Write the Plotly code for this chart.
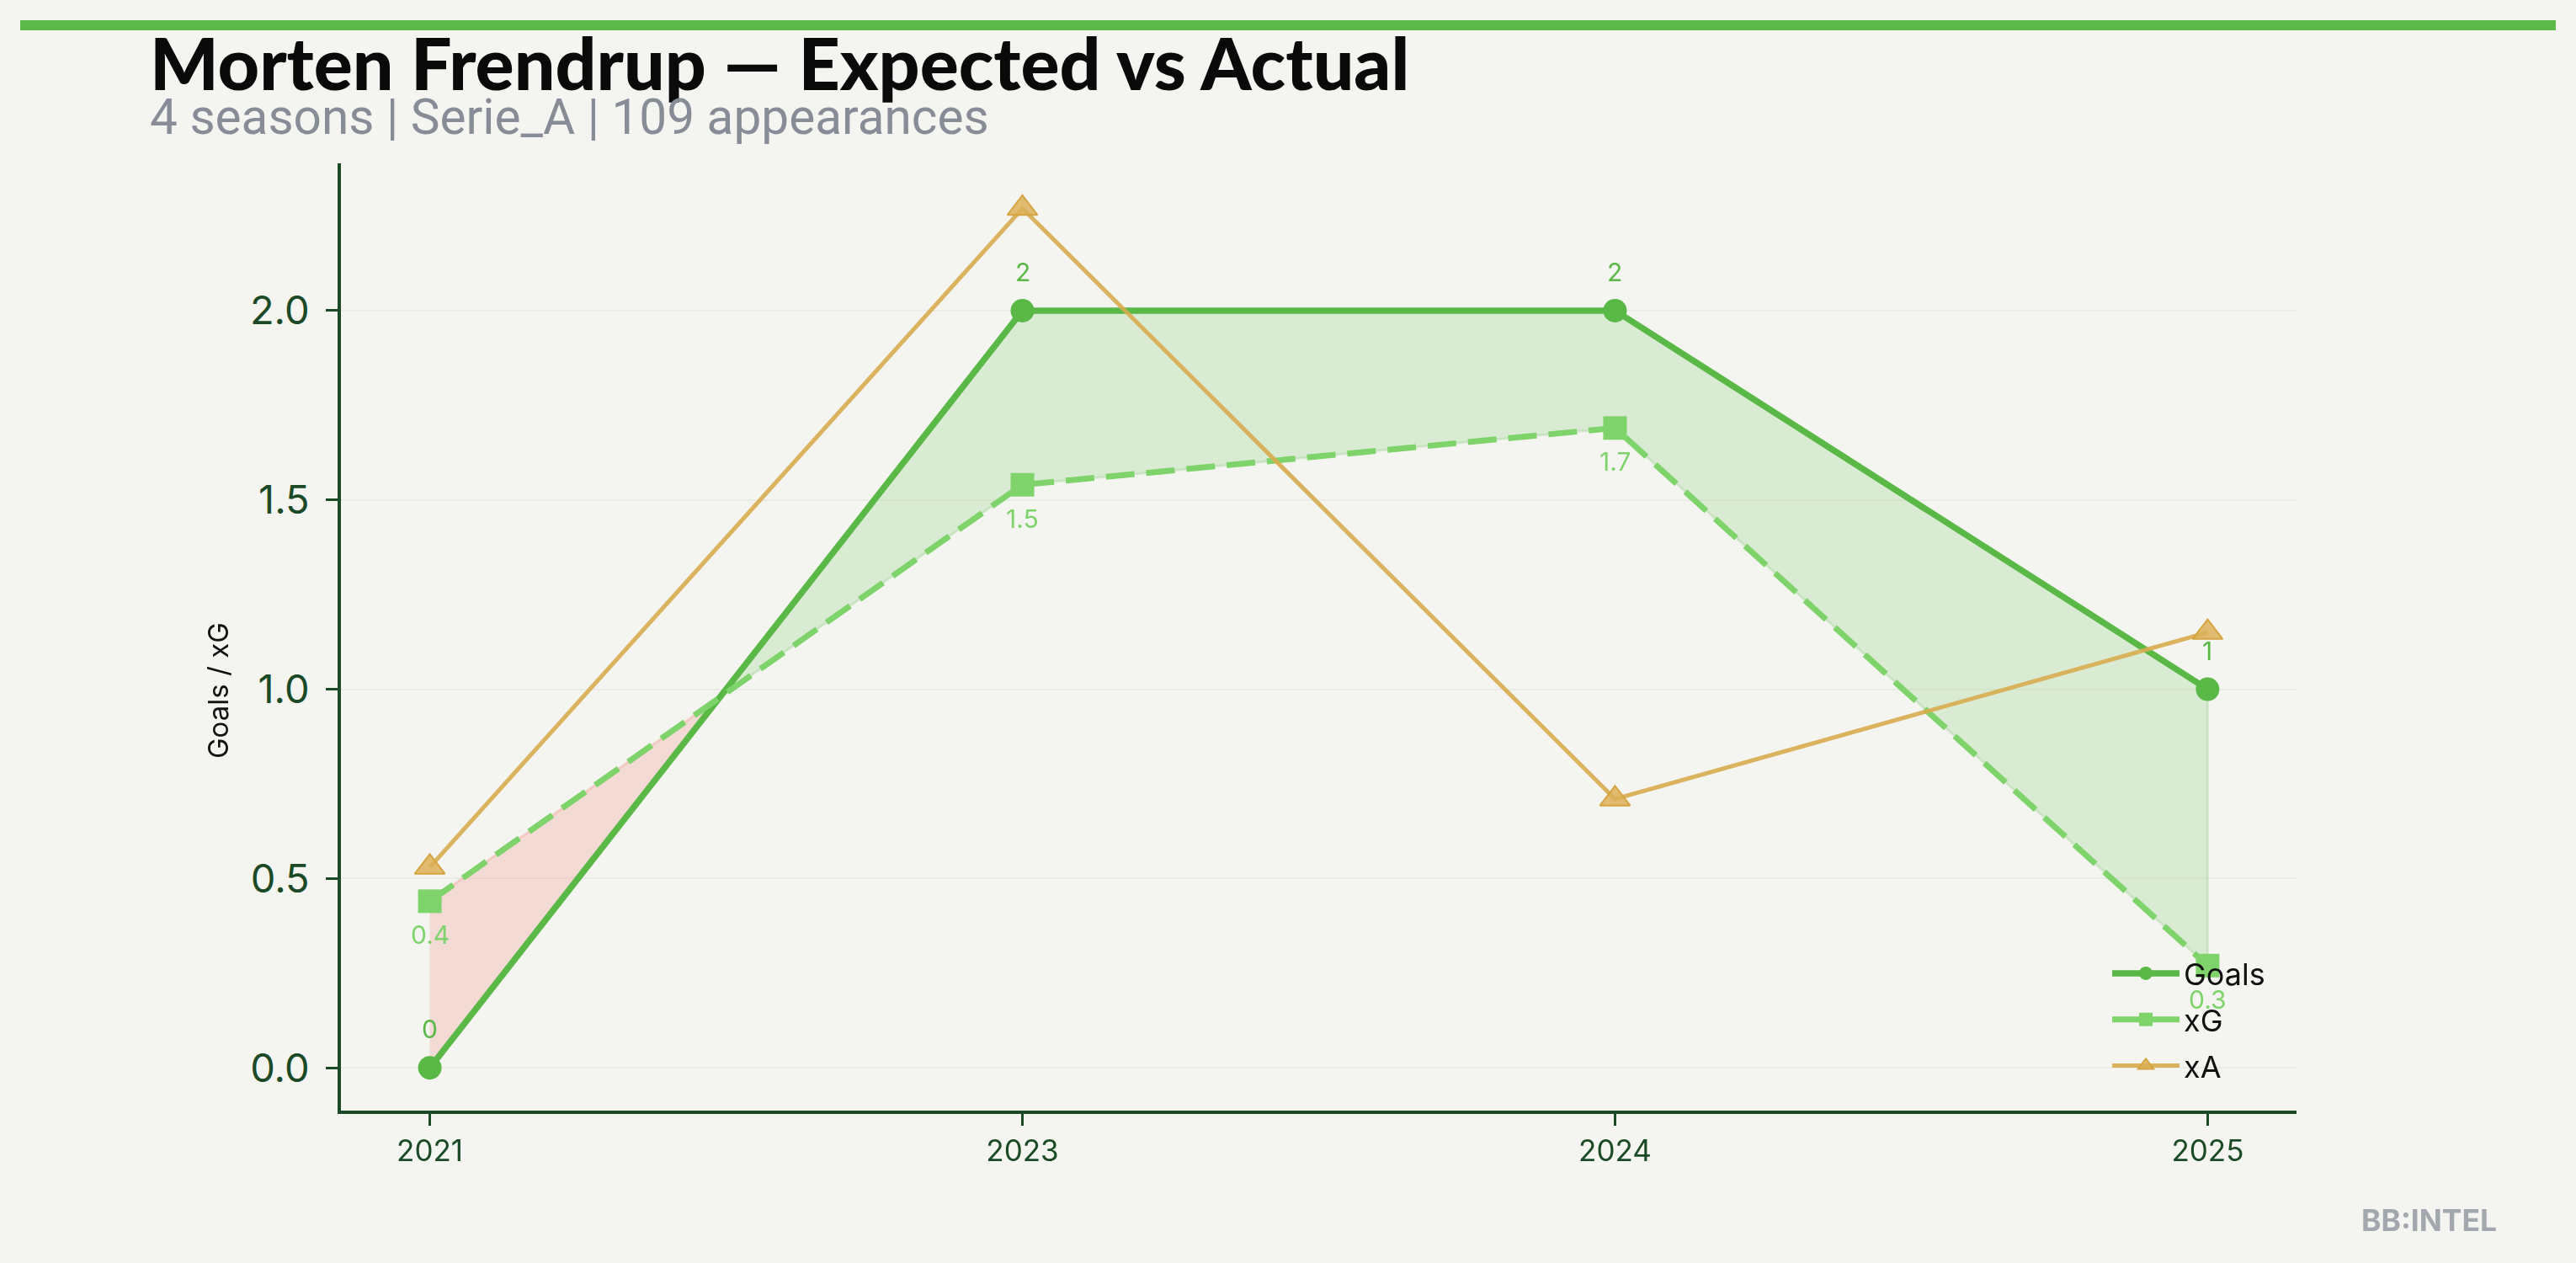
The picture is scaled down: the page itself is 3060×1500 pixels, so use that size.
import plotly.graph_objects as go

# ---------------- data ----------------
seasons = ["2021", "2023", "2024", "2025"]
goals = [0, 2, 2, 1]
xg = [0.44, 1.54, 1.69, 0.27]
xa = [0.53, 2.27, 0.71, 1.15]

title_text = "Morten Frendrup — Expected vs Actual"
subtitle_text = "4 seasons | Serie_A | 109 appearances"
ylabel_text = "Goals / xG"
watermark_text = "BB:INTEL"

# ---------------- style ----------------
W, H = 3060, 1500
L, R, T, B = 405, 2728, 194, 1319   # plot area in pixels
BG = "#f4f5f0"
GOAL_C = "#5ab946"
XG_C = "#7ed36a"
XA_C = "#d9ac4e"
AX_C = "#1b4a26"
FONT = "Inter"

def px(xp):
    return (xp - L) / (R - L)

def py(yp):
    return (B - yp) / (B - T)

xs = list(range(len(seasons)))

# ---- fill between goals and xG (interpolated at crossings) ----
def segments(x, a, b):
    pts = []
    for i in range(len(x)):
        pts.append((x[i], a[i], b[i]))
        if i < len(x) - 1:
            d0 = a[i] - b[i]
            d1 = a[i + 1] - b[i + 1]
            if d0 * d1 < 0:
                t = d0 / (d0 - d1)
                xc = x[i] + t * (x[i + 1] - x[i])
                yc = a[i] + t * (a[i + 1] - a[i])
                pts.append((xc, yc, yc))
    polys = []
    cur = [pts[0]]
    for p in pts[1:]:
        cur.append(p)
        if abs(p[1] - p[2]) < 1e-12:
            polys.append(cur)
            cur = [p]
    polys.append(cur)
    out = []
    for poly in polys:
        if len(poly) < 2:
            continue
        s = sum(q[1] - q[2] for q in poly)
        px_ = [q[0] for q in poly] + [q[0] for q in poly[::-1]]
        py_ = [q[1] for q in poly] + [q[2] for q in poly[::-1]]
        out.append((px_, py_, s >= 0))
    return out

fig = go.Figure()

for fx, fy, over in segments(xs, goals, xg):
    if over:
        fc, lc = "rgba(90,185,70,0.16)", "rgba(90,185,70,0.18)"
    else:
        fc, lc = "rgba(240,110,100,0.2)", "rgba(240,110,100,0.22)"
    fig.add_trace(go.Scatter(x=fx, y=fy, fill="toself", fillcolor=fc,
                             mode="lines", line=dict(color=lc, width=3),
                             hoverinfo="skip", showlegend=False))

fig.add_trace(go.Scatter(x=xs, y=goals, name="Goals", mode="lines+markers",
                         legendgroup="g",
                         line=dict(color=GOAL_C, width=7.5),
                         marker=dict(symbol="circle", size=28, color=GOAL_C)))
fig.add_trace(go.Scatter(x=xs, y=xg, name="xG", mode="lines+markers",
                         legendgroup="xg",
                         line=dict(color=XG_C, width=7, dash="34px,14px"),
                         marker=dict(symbol="square", size=28, color=XG_C)))
fig.add_trace(go.Scatter(x=xs, y=xa, name="xA", mode="lines+markers",
                         legendgroup="xa",
                         line=dict(color=XA_C, width=5),
                         opacity=0.9,
                         marker=dict(symbol="triangle-up", size=31,
                                     color="rgba(217,168,70,0.85)",
                                     line=dict(color="#d29b2c", width=2))))

annotations = []
for i, v in enumerate(goals):
    annotations.append(dict(x=xs[i], y=v, xref="x", yref="y", text=f"{v:g}",
                            showarrow=False, yshift=46,
                            font=dict(family=FONT, size=30, color=GOAL_C)))
for i, v in enumerate(xg):
    annotations.append(dict(x=xs[i], y=v, xref="x", yref="y", text=f"{v:.1f}",
                            showarrow=False, yshift=-40,
                            font=dict(family=FONT, size=30, color=XG_C)))

annotations += [
    dict(x=px(176), y=py(74), xref="paper", yref="paper", xanchor="left", yanchor="middle",
         text=title_text, showarrow=False,
         font=dict(family="Lato", size=86, color="#0a0a0a", weight=900)),
    dict(x=px(176), y=py(139), xref="paper", yref="paper", xanchor="left", yanchor="middle",
         text=subtitle_text, showarrow=False,
         font=dict(family="Roboto", size=58.5, color="#878c96")),
    dict(x=px(259), y=py(820), xref="paper", yref="paper", xanchor="center", yanchor="middle",
         text=ylabel_text, showarrow=False, textangle=-90,
         font=dict(family=FONT, size=33, color="#111111")),
    dict(x=px(2968), y=py(1449), xref="paper", yref="paper", xanchor="right", yanchor="middle",
         text=watermark_text, showarrow=False,
         font=dict(family=FONT, size=35.5, color="#a3a7ae", weight=700)),
]

shapes = [
    dict(type="rect", xref="paper", yref="paper",
         x0=px(24), x1=px(3036), y0=py(36), y1=py(24),
         fillcolor="#5cb94a", line=dict(width=0), layer="above"),
]

fig.update_layout(
    width=W, height=H,
    paper_bgcolor=BG, plot_bgcolor=BG,
    margin=dict(l=L, r=W - R, t=T, b=H - B, pad=0),
    showlegend=True,
    legend=dict(x=px(2504), y=py(1296), xanchor="left", yanchor="bottom",
                bgcolor="rgba(0,0,0,0)", borderwidth=0,
                font=dict(family=FONT, size=36, color="#111111"),
                itemwidth=80, tracegroupgap=5),
    annotations=annotations,
    shapes=shapes,
    xaxis=dict(range=[-0.15, 3.15], tickmode="array", tickvals=xs, ticktext=seasons,
               showgrid=False, zeroline=False, showline=True, linecolor=AX_C, linewidth=4,
               ticks="outside", ticklen=14, tickwidth=3, tickcolor=AX_C,
               tickfont=dict(family=FONT, size=35, color=AX_C)),
    yaxis=dict(range=[-0.113, 2.389], tickmode="array", tickvals=[0, 0.5, 1.0, 1.5, 2.0],
               ticktext=["0.0", "0.5", "1.0", "1.5", "2.0"],
               showgrid=True, gridcolor="#ebece5", gridwidth=2,
               zeroline=False, showline=True, linecolor=AX_C, linewidth=4,
               ticks="outside", ticklen=14, tickwidth=3, tickcolor=AX_C,
               ticklabelstandoff=10,
               tickfont=dict(family=FONT, size=47, color=AX_C)),
)

fig.write_html("out.html", config={"displayModeBar": False},
               post_script="document.body.style.margin='0';document.body.style.background='#f4f5f0';")
